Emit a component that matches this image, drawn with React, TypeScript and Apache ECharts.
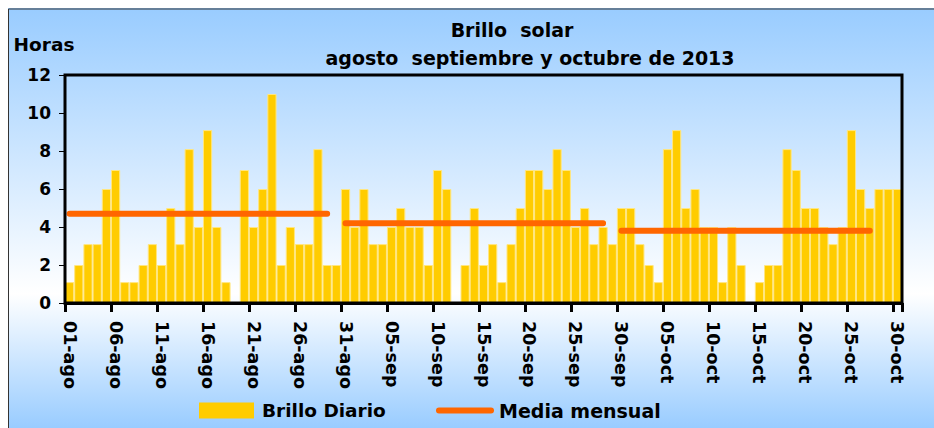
import React, { useEffect, useRef } from "react";
import * as echarts from "echarts";

const FONT = "'DejaVu Sans', 'Liberation Sans', Arial, sans-serif";

const monthNames = ["ago", "sep", "oct"];
const monthDays = [31, 30, 30];

const dailyHours = [
  // agosto
  1.1, 2.0, 3.1, 3.1, 6.0, 7.0, 1.1, 1.1, 2.0, 3.1, 2.0, 5.0, 3.1, 8.1, 4.0, 9.1,
  4.0, 1.1, 0, 7.0, 4.0, 6.0, 11.0, 2.0, 4.0, 3.1, 3.1, 8.1, 2.0, 2.0, 6.0,
  // septiembre
  4.0, 6.0, 3.1, 3.1, 4.0, 5.0, 4.0, 4.0, 2.0, 7.0, 6.0, 0, 2.0, 5.0, 2.0, 3.1,
  1.1, 3.1, 5.0, 7.0, 7.0, 6.0, 8.1, 7.0, 4.0, 5.0, 3.1, 4.0, 3.1, 5.0,
  // octubre
  5.0, 3.1, 2.0, 1.1, 8.1, 9.1, 5.0, 6.0, 4.0, 4.0, 1.1, 4.0, 2.0, 0, 1.1, 2.0,
  2.0, 8.1, 7.0, 5.0, 5.0, 4.0, 3.1, 4.0, 9.1, 6.0, 5.0, 6.0, 6.0, 6.0,
];

const monthMeans = [4.7, 4.2, 3.8];
const meanStartIdx = [0, 30, 60];
const meanEndIdx = [28, 58, 87];

const categories: string[] = [];
monthNames.forEach((m, mi) => {
  for (let d = 1; d <= monthDays[mi]; d++) {
    categories.push(String(d).padStart(2, "0") + "-" + m);
  }
});

const meanLine: (number | null)[] = categories.map(() => null);
monthMeans.forEach((v, i) => {
  for (let k = meanStartIdx[i]; k <= meanEndIdx[i]; k++) meanLine[k] = v;
});

export default function App() {
  const ref = useRef<HTMLDivElement>(null);
  useEffect(() => {
    if (!ref.current) return;
    const chart = echarts.init(ref.current, undefined, { renderer: "svg" });
    const txt = { color: "#000", fontWeight: "bold" as const, fontFamily: FONT };
    chart.setOption({
      animation: false,
      backgroundColor: "transparent",
      title: [
        {
          text: "Brillo  solar",
          left: 504,
          top: 12,
          textAlign: "center",
          padding: 0,
          textStyle: { ...txt, fontSize: 19 },
        },
        {
          text: "agosto  septiembre y octubre de 2013",
          left: 522,
          top: 40,
          textAlign: "center",
          padding: 0,
          textStyle: { ...txt, fontSize: 19 },
        },
      ],
      legend: [
        {
          data: ["Brillo Diario"],
          left: 191,
          top: 393,
          padding: 0,
          itemWidth: 55,
          itemHeight: 16,
          icon: "rect",
          itemStyle: { borderWidth: 0 },
          textStyle: { ...txt, fontSize: 18.5, padding: [0, 0, 0, 3] },
        },
        {
          data: ["Media mensual"],
          left: 428,
          top: 393,
          padding: 0,
          itemWidth: 58,
          itemHeight: 6,
          icon: "path://M3,0 L55,0 A3,3 0 0 1 55,6 L3,6 A3,3 0 0 1 3,0 Z",
          symbolKeepAspect: false,
          itemStyle: { color: "#FF6600" },
          textStyle: { ...txt, fontSize: 19 },
        },
      ],
      grid: {
        left: 57,
        right: 32,
        top: 67,
        bottom: 125,
        show: true,
        z: 6,
        borderColor: "#000",
        borderWidth: 3,
        backgroundColor: "transparent",
      },
      xAxis: {
        type: "category",
        data: categories,
        boundaryGap: true,
        z: 6,
        axisLine: { show: true, lineStyle: { color: "#000", width: 3 } },
        axisTick: { show: true, interval: 4, length: 9, lineStyle: { color: "#000", width: 3 } },
        axisLabel: { interval: 4, rotate: -90, margin: 18, fontSize: 17.5, ...txt },
        splitLine: { show: false },
      },
      yAxis: {
        type: "value",
        min: 0,
        max: 12,
        interval: 2,
        name: "Horas",
        nameLocation: "end",
        nameGap: 21,
        nameTextStyle: { ...txt, fontSize: 18.5, align: "center", padding: [0, 42, 0, 0] },
        axisLine: { show: false },
        axisTick: { show: true, length: 6, lineStyle: { color: "#000", width: 1 } },
        axisLabel: { margin: 14, fontSize: 17, ...txt },
        splitLine: { show: false },
      },
      graphic: [
        {
          type: "rect",
          shape: { x: 0.5, y: 1, width: 2000, height: 2000 },
          style: { fill: "none", stroke: "#333", lineWidth: 1 },
          silent: true,
        },
      ],
      series: [
        {
          name: "Brillo Diario",
          type: "bar",
          data: dailyHours,
          barCategoryGap: "0%",
          itemStyle: { color: "#FFCC00", borderColor: "#FFE680", borderWidth: 1 },
        },
        {
          name: "Media mensual",
          type: "line",
          data: meanLine,
          symbol: "none",
          showSymbol: false,
          connectNulls: false,
          z: 5,
          itemStyle: { color: "#FF6600" },
          lineStyle: { color: "#FF6600", width: 6, cap: "round" },
        },
      ],
    });
    return () => chart.dispose();
  }, []);
  return (
    <div
      ref={ref}
      style={{
        position: "absolute",
        left: 8,
        top: 8,
        width: 926,
        height: 420,
        background: "linear-gradient(to bottom, #99CCFF 0%, #FFFFFF 68%, #99CCFF 100%)",
      }}
    />
  );
}
